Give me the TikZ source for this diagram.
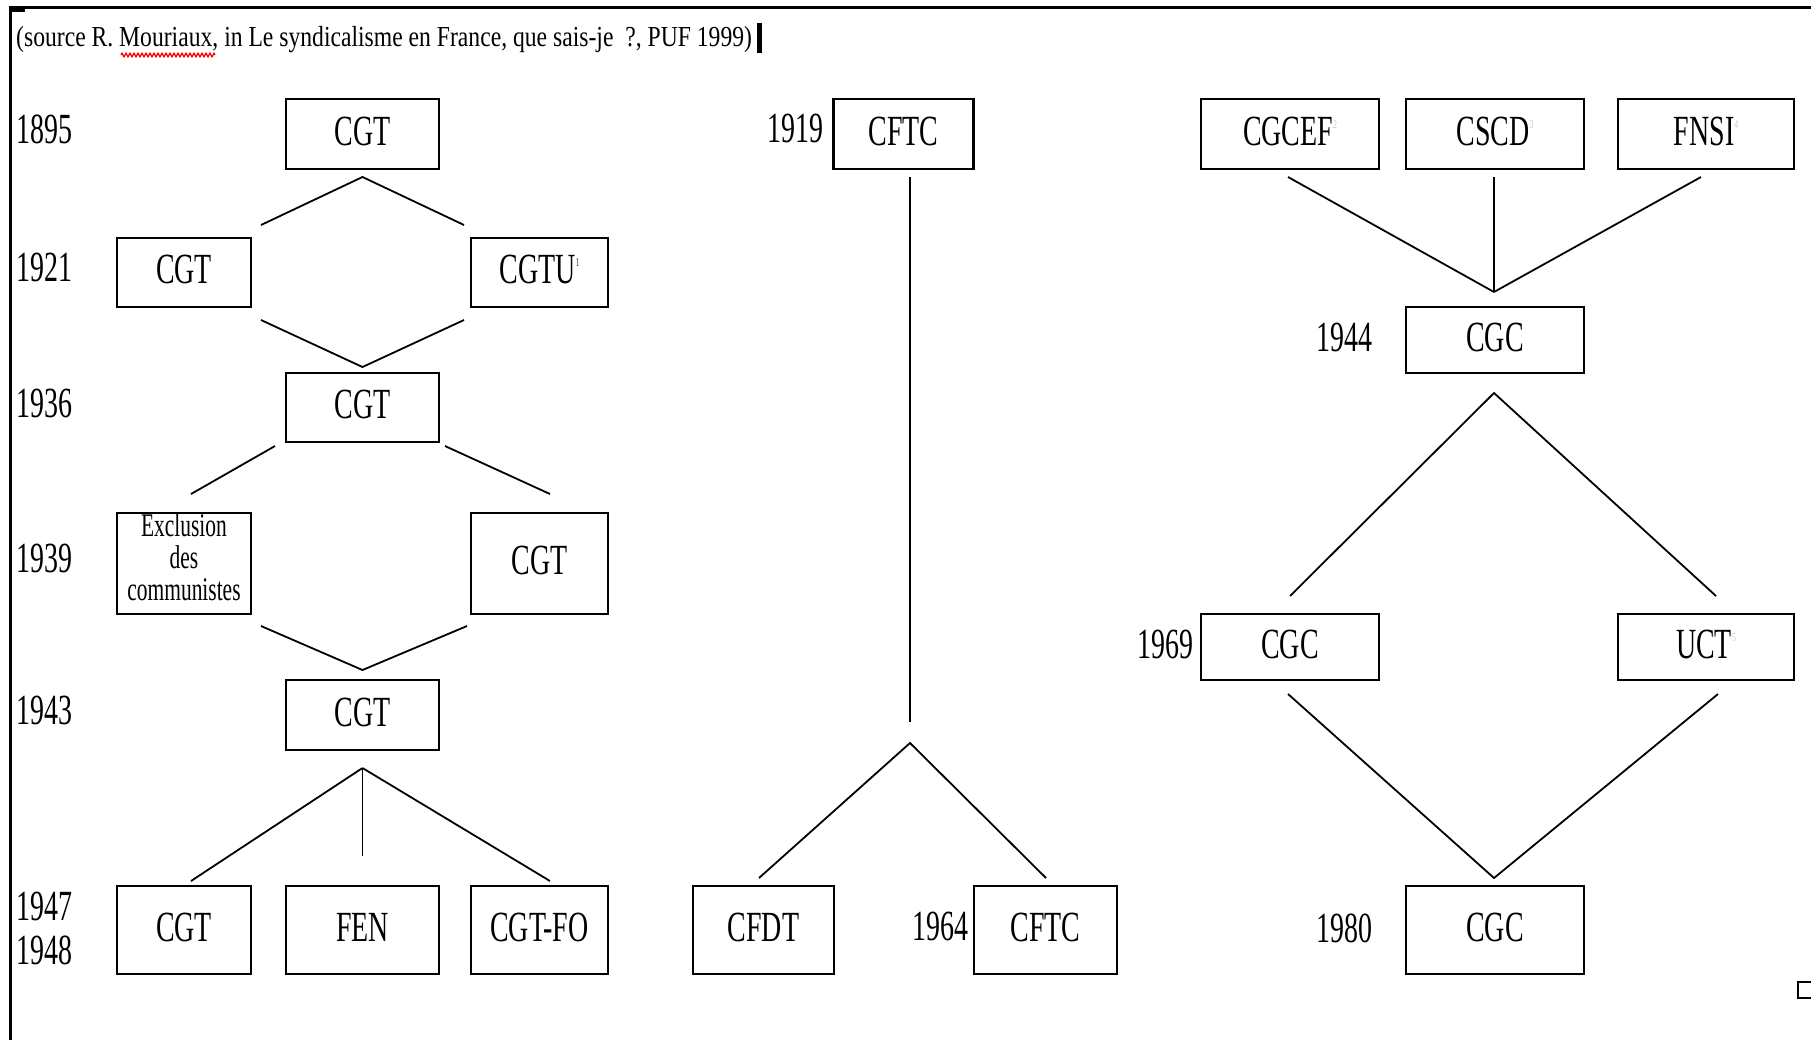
\documentclass[tikz,border=0pt]{standalone}
\usepackage{fontspec}
\setmainfont{Liberation Serif}[FakeStretch=0.65]
\newfontfamily\srcfont{Liberation Serif}[FakeStretch=0.815]
\usetikzlibrary{decorations.pathmorphing}
\newcommand\bigtxt{\fontsize{43}{46}\selectfont}
\newcommand\supmark[2]{\raisebox{17pt}{\fontsize{12}{12}\selectfont\color{#1}#2}}
\tikzset{
  box/.style 2 args={draw, line width=2.4pt, minimum width=#1, minimum height=#2, inner sep=0pt, font=\bigtxt, text depth=6pt},
  yr/.style={inner sep=0pt, font=\bigtxt, text depth=5pt},
  conn/.style={line width=1.8pt},
}
\begin{document}
\begin{tikzpicture}[x=1pt,y=-1pt]
\useasboundingbox (0,0) rectangle (1811,1039);
\fill[white] (0,0) rectangle (1811,1039);
% frame
\draw[line width=3pt] (10,1045) -- (10,7.5) -- (1815,7.5);
\fill (10,8) rectangle (25,12);
\draw[line width=2pt] (1798,982) rectangle (1816,998);
% source line
\node[anchor=base west, inner sep=0pt, font=\srcfont\fontsize{29}{30}\selectfont] (src) at (16,46)
  {(source R. Mouriaux, in Le syndicalisme en France, que sais-je ~?, PUF 1999)};
\draw[red, line width=1.3pt, decorate, decoration={zigzag, segment length=4pt, amplitude=1.8pt}] (121,55) -- (215,55);
\fill (757,23) rectangle (762,53);

% column 1
\node[box={153}{70}] (A) at (362.5,134) {CGT};
\node[box={134}{69}] (B) at (184,272.5) {CGT};
\node[box={137}{69}] (C) at (539.5,272.5) {CGTU\supmark{black!70}{1}};
\node[box={153}{69}] (D) at (362.5,407.5) {CGT};
\node[box={134}{101}, align=center, font=\fontsize{33}{32}\selectfont, text depth=12pt] (E) at (184,563.5) {Exclusion\\des\\communistes};
\node[box={137}{101}] (F) at (539.5,563.5) {CGT};
\node[box={153}{70}] (G) at (362.5,715) {CGT};
\node[box={134}{88}] (H) at (184,930) {CGT};
\node[box={153}{88}] (I) at (362.5,930) {FEN};
\node[box={137}{88}] (J) at (539.5,930) {CGT-FO};

% column 2
\node[box={140}{70}] (K) at (903.5,134) {CFTC};
\node[box={141}{88}] (L) at (763.5,930) {CFDT};
\node[box={143}{88}] (M) at (1045.5,930) {CFTC};

% column 3
\node[box={178}{70}] (N) at (1290,134) {CGCEF\supmark{black!20}{2}};
\node[box={178}{70}] (O) at (1495,134) {CSCD\supmark{black!20}{3}};
\node[box={176}{70}] (P) at (1706,134) {FNSI\supmark{black!20}{4}};
\node[box={178}{66}] (Q) at (1495,340) {CGC};
\node[box={178}{66}] (R) at (1290,647) {CGC};
\node[box={176}{66}] (S) at (1706,647) {UCT\supmark{black!20}{5}};
\node[box={178}{88}] (T) at (1495,930) {CGC};

% years
\node[yr, anchor=west] (y1895) at (16,132) {1895};
\node[yr, anchor=west] (y1921) at (16,270) {1921};
\node[yr, anchor=west] (y1936) at (16,406) {1936};
\node[yr, anchor=west] (y1939) at (16,561) {1939};
\node[yr, anchor=west] (y1943) at (16,713) {1943};
\node[yr, anchor=west] (y1947) at (16,909) {1947};
\node[yr, anchor=west] (y1948) at (16,953) {1948};
\node[yr, anchor=east] (y1919) at (824,131) {1919};
\node[yr, anchor=east] (y1964) at (969,929) {1964};
\node[yr, anchor=east] (y1944) at (1373,340) {1944};
\node[yr, anchor=east] (y1969) at (1194,647) {1969};
\node[yr, anchor=east] (y1980) at (1373,931) {1980};

% connector coordinates
\coordinate (a1) at (362.5,177); \coordinate (a2) at (261,225); \coordinate (a3) at (464,225);
\coordinate (b1) at (261,320); \coordinate (b2) at (362.5,367); \coordinate (b3) at (464,320);
\coordinate (c1) at (275,446); \coordinate (c2) at (191,494);
\coordinate (c3) at (445,446); \coordinate (c4) at (550,494);
\coordinate (d1) at (261,626); \coordinate (d2) at (362.5,670); \coordinate (d3) at (467,626);
\coordinate (e1) at (362.5,768); \coordinate (e2) at (191,881); \coordinate (e3) at (362.5,856); \coordinate (e4) at (550,881);
\coordinate (f1) at (910,177); \coordinate (f2) at (910,722);
\coordinate (f3) at (910,743); \coordinate (f4) at (759,878); \coordinate (f5) at (1046,878);
\coordinate (g1) at (1288,177); \coordinate (g2) at (1494,292); \coordinate (g3) at (1494,177); \coordinate (g4) at (1701,177);
\coordinate (h1) at (1494,393); \coordinate (h2) at (1290,596); \coordinate (h3) at (1716,596);
\coordinate (i1) at (1288,694); \coordinate (i2) at (1494,878); \coordinate (i3) at (1718,694);

\draw[conn] (a2) -- (a1) -- (a3);
\draw[conn] (b1) -- (b2) -- (b3);
\draw[conn] (c1) -- (c2);
\draw[conn] (c3) -- (c4);
\draw[conn] (d1) -- (d2) -- (d3);
\draw[conn] (e1) -- (e2);
\draw[conn] (e1) -- (e3);
\draw[conn] (e1) -- (e4);
\draw[conn] (f1) -- (f2);
\draw[conn] (f4) -- (f3) -- (f5);
\draw[conn] (g1) -- (g2);
\draw[conn] (g3) -- (g2);
\draw[conn] (g4) -- (g2);
\draw[conn] (h2) -- (h1) -- (h3);
\draw[conn] (i1) -- (i2) -- (i3);
\end{tikzpicture}
\end{document}
